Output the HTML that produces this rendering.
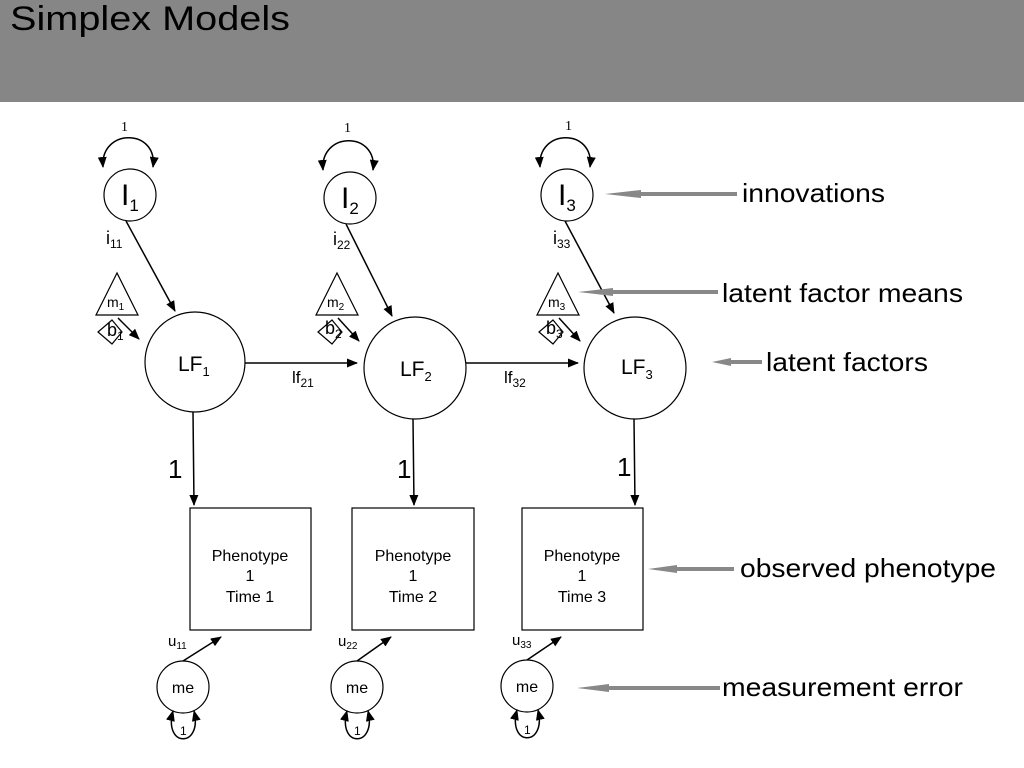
<!DOCTYPE html>
<html><head><meta charset="utf-8"><style>
html,body{margin:0;padding:0;background:#fff;width:1024px;height:768px;overflow:hidden}
svg{display:block}
text{font-family:"Liberation Sans",Arial,sans-serif;fill:#000}
.s{font-family:"Liberation Serif",serif}
</style></head><body>
<svg width="1024" height="768" viewBox="0 0 1024 768" xmlns="http://www.w3.org/2000/svg">
<defs>
<marker id="a" markerWidth="11" markerHeight="9" refX="10" refY="4.5" orient="auto-start-reverse" markerUnits="userSpaceOnUse"><path d="M0,0 L11,4.5 L0,9 Z" fill="#000"/></marker>
</defs>
<rect x="0" y="0" width="1024" height="102" fill="#868686"/>
<text x="10" y="30" font-size="34" textLength="280" lengthAdjust="spacingAndGlyphs">Simplex Models</text>

<g fill="none" stroke="#000" stroke-width="1.2">
<circle cx="130" cy="195" r="26"/>
<circle cx="195" cy="362" r="50"/>
<polygon points="117,273 96,315 138,315"/>
<polygon points="112,320 122,332 112,344 98,332"/>
<rect x="190" y="508" width="121" height="122"/>
<circle cx="183" cy="687" r="26"/>
<circle cx="350" cy="198" r="26"/>
<circle cx="415" cy="368" r="51"/>
<polygon points="337,273 316,315 358,315"/>
<polygon points="332,320 342,332 332,344 318,332"/>
<rect x="352" y="508" width="122" height="122"/>
<circle cx="357" cy="687" r="26"/>
<circle cx="567" cy="195" r="26"/>
<circle cx="635" cy="368" r="51"/>
<polygon points="558,273 537,315 579,315"/>
<polygon points="553,320 563,332 553,344 539,332"/>
<rect x="522" y="508" width="121" height="122"/>
<circle cx="527" cy="686" r="26"/>
</g>

<g fill="none" stroke="#000" stroke-width="1.5">
<path d="M103,167 C100,128 158,128 153,167" marker-start="url(#a)" marker-end="url(#a)"/>
<path d="M323,170 C320,131 378,131 373,170" marker-start="url(#a)" marker-end="url(#a)"/>
<path d="M540,167 C537,128 595,128 590,167" marker-start="url(#a)" marker-end="url(#a)"/>
<path d="M173,711 C163,748 203,748 194,711" marker-start="url(#a)" marker-end="url(#a)"/>
<path d="M347,711 C337,748 377,748 368,711" marker-start="url(#a)" marker-end="url(#a)"/>
<path d="M517,710 C507,747 547,747 538,710" marker-start="url(#a)" marker-end="url(#a)"/>
<line x1="126" y1="221" x2="175" y2="311" marker-end="url(#a)"/>
<line x1="346" y1="224" x2="392" y2="316" marker-end="url(#a)"/>
<line x1="565" y1="221" x2="614" y2="313" marker-end="url(#a)"/>
<line x1="118" y1="318" x2="139" y2="339" marker-end="url(#a)"/>
<line x1="338" y1="318" x2="359" y2="341" marker-end="url(#a)"/>
<line x1="559" y1="318" x2="580" y2="341" marker-end="url(#a)"/>
<line x1="245" y1="363" x2="357" y2="363" marker-end="url(#a)"/>
<line x1="466" y1="363" x2="578" y2="363" marker-end="url(#a)"/>
<line x1="193" y1="412" x2="194" y2="505" marker-end="url(#a)"/>
<line x1="413" y1="419" x2="414" y2="505" marker-end="url(#a)"/>
<line x1="634" y1="419" x2="635" y2="505" marker-end="url(#a)"/>
<line x1="183" y1="661" x2="221" y2="637" marker-end="url(#a)"/>
<line x1="357" y1="661" x2="391" y2="637" marker-end="url(#a)"/>
<line x1="527" y1="660" x2="561" y2="637" marker-end="url(#a)"/>
</g>

<g fill="#888">
<rect x="640" y="192" width="97" height="4"/><path d="M605,194 L641,190 L641,198 Z"/>
<rect x="612" y="290" width="106" height="4"/><path d="M578,292 L613,288 L613,296 Z"/>
<rect x="730" y="360" width="32" height="4"/><path d="M712,362 L731,358 L731,366 Z"/>
<rect x="676" y="567" width="58" height="4"/><path d="M648,569 L677,565 L677,573 Z"/>
<rect x="608" y="686" width="112" height="4"/><path d="M577,688 L609,684 L609,692 Z"/>
</g>

<text class="s" x="121" y="131" font-size="14">1</text>
<text class="s" x="344" y="132" font-size="14">1</text>
<text class="s" x="565" y="130" font-size="14">1</text>
<text x="121" y="205" font-size="30">I<tspan font-size="17" dy="6">1</tspan></text>
<text x="341" y="208" font-size="30">I<tspan font-size="17" dy="6">2</tspan></text>
<text x="558" y="205" font-size="30">I<tspan font-size="17" dy="6">3</tspan></text>
<text x="106" y="244" font-size="18">i<tspan font-size="12" dy="4">11</tspan></text>
<text x="333" y="245" font-size="18">i<tspan font-size="12" dy="4">22</tspan></text>
<text x="553" y="244" font-size="18">i<tspan font-size="12" dy="4">33</tspan></text>
<text x="107" y="307" font-size="14">m<tspan font-size="10" dy="3">1</tspan></text>
<text x="327" y="307" font-size="14">m<tspan font-size="10" dy="3">2</tspan></text>
<text x="548" y="307" font-size="14">m<tspan font-size="10" dy="3">3</tspan></text>
<text x="107" y="336" font-size="18">b<tspan font-size="12" dy="4">1</tspan></text>
<text x="325" y="334" font-size="18">b<tspan font-size="12" dy="4">2</tspan></text>
<text x="546" y="334" font-size="18">b<tspan font-size="12" dy="4">3</tspan></text>
<text x="178" y="371" font-size="21">LF<tspan font-size="13" dy="5">1</tspan></text>
<text x="400" y="376" font-size="21">LF<tspan font-size="13" dy="5">2</tspan></text>
<text x="621" y="374" font-size="21">LF<tspan font-size="13" dy="5">3</tspan></text>
<text x="292" y="383" font-size="17">lf<tspan font-size="12" dy="4">21</tspan></text>
<text x="504" y="383" font-size="17">lf<tspan font-size="12" dy="4">32</tspan></text>
<text x="168" y="478" font-size="26">1</text>
<text x="397" y="478" font-size="26">1</text>
<text x="617" y="476" font-size="26">1</text>
<g font-size="16" text-anchor="middle">
<text x="250" y="561">Phenotype</text><text x="250" y="581">1</text><text x="250" y="602">Time 1</text>
<text x="413" y="561">Phenotype</text><text x="413" y="581">1</text><text x="413" y="602">Time 2</text>
<text x="582" y="561">Phenotype</text><text x="582" y="581">1</text><text x="582" y="602">Time 3</text>
<text x="183" y="693">me</text><text x="357" y="693">me</text><text x="527" y="692">me</text>
</g>
<text x="168" y="646" font-size="15">u<tspan font-size="10" dy="3">11</tspan></text>
<text x="338" y="646" font-size="15">u<tspan font-size="10" dy="3">22</tspan></text>
<text x="512" y="645" font-size="15">u<tspan font-size="10" dy="3">33</tspan></text>
<text x="180" y="735" font-size="12">1</text>
<text x="354" y="735" font-size="12">1</text>
<text x="524" y="734" font-size="12">1</text>
<g font-size="26">
<text x="742" y="202" textLength="143" lengthAdjust="spacingAndGlyphs">innovations</text>
<text x="722" y="302" textLength="241" lengthAdjust="spacingAndGlyphs">latent factor means</text>
<text x="766" y="371" textLength="162" lengthAdjust="spacingAndGlyphs">latent factors</text>
<text x="740" y="577" textLength="256" lengthAdjust="spacingAndGlyphs">observed phenotype</text>
<text x="722" y="696" textLength="241" lengthAdjust="spacingAndGlyphs">measurement error</text>
</g>
</svg>
</body></html>
